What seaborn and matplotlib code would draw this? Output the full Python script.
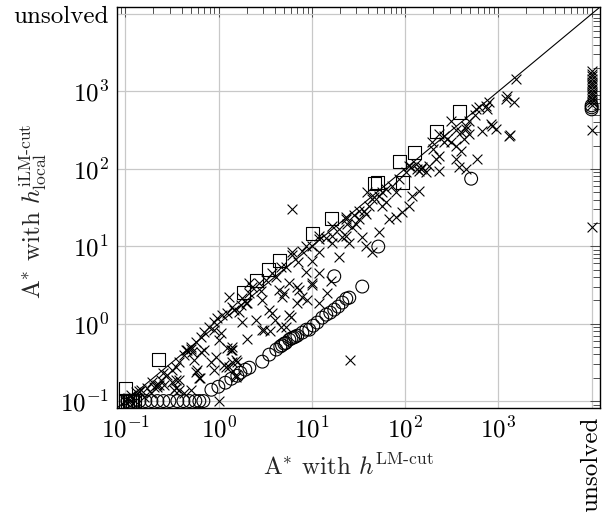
import numpy as np
import matplotlib
matplotlib.use("Agg")
import matplotlib.pyplot as plt
import seaborn as sns
from matplotlib.ticker import LogLocator, FixedLocator, FixedFormatter, NullFormatter

# Runtimes (log10 seconds) of A* with h^LM-cut (x) vs. h^iLM-cut_local (y).
# Values below 0.1 s are shown at the 0.1 s border.
square_lm = [-1.0, -0.646, 0.265, 0.404, 0.533, 0.651, 1.004, 1.208, 1.669, 1.70,
             1.969, 1.937, 2.098, 2.333, 2.587,
             -1.0, -0.98, -0.96, -0.94, -0.92, -0.90]
square_ilm = [-0.841, -0.466, 0.401, 0.556, 0.699, 0.815, 1.164, 1.358, 1.811, 1.824,
              1.82, 2.096, 2.212, 2.484, 2.733,
              -1.0, -1.0, -1.0, -1.0, -1.0, -1.0]

circle_lm = [-0.979, -0.914, -0.85, -0.786, -0.721, -0.657, -0.593, -0.528, -0.443, -0.378,
             -0.314, -0.25, -0.207, -0.164,
             -0.078, -0.003, 0.072, 0.136, 0.2, 0.233, 0.286, 0.329, 0.468, 0.543,
             0.618, 0.661, 0.704, 0.758, 0.801, 0.844, 0.897, 0.94, 0.972, 1.015,
             1.058, 1.111, 1.154, 1.197, 1.24, 1.283, 1.326, 1.369, 1.401, 1.54,
             1.712, 2.708, 1.24, 0.72, 0.78, 0.82, 0.68]
circle_ilm = [-1.0, -1.0, -1.0, -1.0, -1.0, -1.0, -1.0, -1.0, -1.0, -1.0,
              -1.0, -1.0, -1.0, -1.0,
              -0.854, -0.815, -0.763, -0.712, -0.673, -0.634, -0.595, -0.569, -0.491, -0.4,
              -0.335, -0.296, -0.258, -0.207, -0.181, -0.155, -0.116, -0.078, -0.078, -0.026,
              0.014, 0.077, 0.116, 0.142, 0.181, 0.22, 0.272, 0.323, 0.336, 0.479,
              0.996, 1.872, 0.612, -0.25, -0.19, -0.17, -0.28]

cross_lm = [-1.0, -0.97, -0.95, -0.9, -0.97,
            -0.936, -0.882, -0.829, -0.764, -0.689, -0.657, -0.614, -0.550, -0.496, -0.453,
            -0.421, -0.368, -0.335, -0.293, -0.239, -0.185, -0.153, -0.100, -0.046, -0.014,
            0.040, 0.093, 0.168, 0.243,
            -0.657, -0.453, -0.475, -0.421, -0.368, -0.293, -0.260, -0.185, -0.153, -0.078,
            -0.046, 0.029, 0.007, 0.093, 0.136, 0.061, 0.115, 0.200, 0.190, -0.228,
            -0.282, -0.346, -0.582, -0.721, -0.796, -0.496, -0.453, -0.196, 0.007,
            0.147, 0.254, 0.297, 0.329, 0.361, 0.436, 0.468, 0.543, 0.576, 0.651,
            0.704, 0.758, 0.726, 0.468, 0.254, 0.222, 0.897, 1.004, 1.079, 1.165,
            0.844, 0.758, 0.190, 0.147,
            0.115, 0.404, 0.490, 0.683, 0.779, 0.672, 0.844, 0.865, 1.004, 1.079,
            0.726, 0.790, 0.940, 1.004, 1.079, 1.219, 1.294, 1.369, 1.369,
            0.329, 0.511, 0.576, 0.672, 0.790, 0.940, 1.079, 1.219, 1.369,
            -0.025, 0.082, 0.147, 0.190, -0.207, -0.239, -0.421, -0.636, 0.147,
            0.897, 1.004, 1.079, 1.219, 1.294, 1.379, 1.433, 1.476, 1.508, 1.562,
            1.615, 1.647, 1.722, 1.797, 1.862, 1.905, 1.937, 2.012, 2.065, 2.119,
            2.173, 2.226,
            1.326, 1.401, 1.583, 1.722, 1.647, 1.830, 1.905, 1.969, 2.044, 2.076,
            2.151, 1.540, 1.508, 1.583, 1.797, 1.755, 1.594, 1.669,
            2.044, 2.130, 2.183, 2.258, 2.333, 2.366, 2.419, 2.451, 2.494, 2.548,
            2.601, 2.633, 2.655, 2.687, 2.762, 2.794, 2.869, 2.901, 2.880, 3.084,
            3.094, 3.169, 3.191,
            2.494, 2.601, 2.687, 2.655, 2.826, 2.923, 2.934, 2.976, 3.116, 2.773,
            2.290, 2.366, 2.419, 2.548, 2.580, 2.655, 2.366, 2.151,
            0.787, 1.408, 3.126,
            -0.85, -0.72, -0.60, -0.30, -0.05, 0.30, 0.45, 0.62, 0.85, 1.15,
            1.45, 1.75, 2.30, 2.55, 2.75, 0.30, 0.55, 0.95, 1.20, 0.60]
cross_ilm = [-1.0, -1.0, -1.0, -1.0, -0.96,
             -0.918, -0.880, -0.854, -0.828, -0.815, -0.789, -0.724, -0.660, -0.595, -0.556,
             -0.492, -0.401, -0.336, -0.297, -0.233, -0.168, -0.103, -0.039, 0.026, 0.078,
             0.116, 0.142, 0.181, 0.246,
             -0.815, -0.724, -0.854, -0.854, -0.893, -0.854, -0.466, -0.362, -0.336, -0.492,
             -0.595, -0.116, -0.207, -0.310, -0.336, -0.530, -0.556, -0.492, -0.660, -0.595,
             -0.362, -0.336, -0.789, -0.893, -0.944, -0.750, -0.828, -0.699, -1.0,
             0.220, 0.336, 0.272, 0.401, 0.479, 0.531, 0.311, 0.181, 0.142, 0.440,
             0.401, 0.116, -0.039, -0.078, 0.026, 0.155, 0.349, 0.505, 0.272, 0.401,
             0.479, 0.531, -0.466, -0.336,
             0.349, 0.052, -0.078, 0.349, 0.091, -0.039, 0.272, 0.440, 0.531, 0.660,
             0.738, 0.919, 0.673, 0.803, 0.919, 1.048, 0.867, 1.126, 1.346,
             0.531, 0.570, 0.660, 0.738, 0.893, 0.997, 1.126, 1.255, 1.372,
             -0.427, -0.556, -0.492, -0.686, -0.699, -0.621, -0.724, -0.789, -0.297,
             0.932, 0.997, 1.087, 1.126, 1.217, 1.281, 1.242, 1.281, 1.346, 1.449,
             1.514, 1.604, 1.643, 1.734, 1.772, 1.695, 1.863, 1.954, 2.019, 2.058,
             1.993, 1.954,
             1.113, 1.048, 0.997, 1.178, 0.919, 1.346, 1.372, 1.437, 1.514, 1.643,
             1.708, 1.113, 1.449, 1.410, 1.566, 1.514, 1.695, 1.630,
             2.032, 1.993, 2.019, 2.032, 2.123, 2.162, 2.343, 2.382, 2.343, 2.291,
             2.226, 2.382, 2.550, 2.615, 2.770, 2.796, 2.809, 2.860, 2.770, 2.898,
             2.937, 2.860, 3.157,
             2.615, 2.472, 2.446, 2.511, 2.485, 2.576, 2.550, 2.511, 2.420, 2.123,
             2.343, 2.446, 2.420, 2.123, 2.019, 1.993, 1.967, 1.967,
             1.484, -0.466, 2.432,
             -0.87, -0.75, -0.64, -0.33, -0.08, 0.27, 0.42, 0.60, 0.80, 1.10,
             1.40, 1.70, 2.25, 2.50, 2.70, -0.20, -0.10, 0.30, 0.55, 0.05]

# Instances that h^LM-cut leaves unsolved (log10 runtime with h^iLM-cut_local)
unsolved_cross_ilm = [3.26, 3.22, 3.196, 3.157, 3.118, 3.092, 3.066, 3.027, 2.988,
                      2.962, 2.937, 2.898, 2.859, 2.820, 2.497, 1.243]
unsolved_circle_ilm = [2.82, 2.794, 2.768]

tick_exponents = [-1, 0, 1, 2, 3]
unsolved_label = "unsolved"
UNSOLVED = 1e4  # position of the "unsolved" column/row

sns.set_style("white")
plt.rcParams["font.family"] = ["cmr10", "DejaVu Serif"]
plt.rcParams["mathtext.fontset"] = "cm"
plt.rcParams["axes.unicode_minus"] = False
plt.rcParams["axes.formatter.use_mathtext"] = True

fig = plt.figure(figsize=(6.02, 5.12), dpi=100)
ax = fig.add_axes([0.1944, 0.2031, 0.8023, 0.7832])
ax.set_xscale("log")
ax.set_yscale("log")
lo, hi = 10 ** -1.09, 10 ** 4.09
ax.set_xlim(lo, hi)
ax.set_ylim(lo, hi)

ax.plot([lo, hi], [lo, hi], color="black", lw=0.8, zorder=2)

def pow10(v):
    return np.power(10.0, np.asarray(v, dtype=float))

ms = dict(linewidth=0.8, zorder=3, ax=ax, legend=False)
sns.scatterplot(x=pow10(cross_lm), y=pow10(cross_ilm), marker="x", s=50,
                color="black", **ms)
sns.scatterplot(x=np.full(len(unsolved_cross_ilm), UNSOLVED), y=pow10(unsolved_cross_ilm),
                marker="x", s=50, color="black", **ms)
sns.scatterplot(x=pow10(circle_lm), y=pow10(circle_ilm), marker="o", s=85,
                facecolor="none", edgecolor="black", **ms)
sns.scatterplot(x=np.full(len(unsolved_circle_ilm), UNSOLVED), y=pow10(unsolved_circle_ilm),
                marker="o", s=85, facecolor="none", edgecolor="black", **ms)
sns.scatterplot(x=pow10(square_lm), y=pow10(square_ilm), marker="s", s=90,
                facecolor="none", edgecolor="black", **ms)

major = [10.0 ** e for e in tick_exponents] + [UNSOLVED]
labels = [rf"$10^{{{e}}}$" for e in tick_exponents] + [unsolved_label]
for axis in (ax.xaxis, ax.yaxis):
    axis.set_major_locator(FixedLocator(major))
    axis.set_major_formatter(FixedFormatter(labels))
    axis.set_minor_locator(LogLocator(base=10, subs=np.arange(2, 10), numticks=20))
    axis.set_minor_formatter(NullFormatter())

ax.grid(True, which="major", color="#c8c8c8", lw=0.9, zorder=0)
ax.set_axisbelow(True)
ax.tick_params(which="both", direction="in", top=True, right=True, colors="#333333",
               labelcolor="black", labelsize=18)
ax.tick_params(which="major", length=7, width=0.6, pad=6)
ax.tick_params(which="minor", length=5, width=0.6)
for lab in ax.get_xticklabels():
    if lab.get_text() == unsolved_label:
        lab.set_rotation(90)
        lab.set_va("top")
for sp in ax.spines.values():
    sp.set_color("black")
    sp.set_linewidth(1.0)

ax.set_xlabel(r"A$^{*}$ with $h^{\mathrm{LM\text{-}cut}}$", fontsize=18, va="top")
ax.set_ylabel(r"A$^{*}$ with $h^{\mathrm{iLM\text{-}cut}}_{\mathrm{local}}$", fontsize=18,
              va="center")
ax.xaxis.set_label_coords(0.48, -0.115)
ax.yaxis.set_label_coords(-0.172, 0.49)

fig.savefig("out.png", dpi=100)
